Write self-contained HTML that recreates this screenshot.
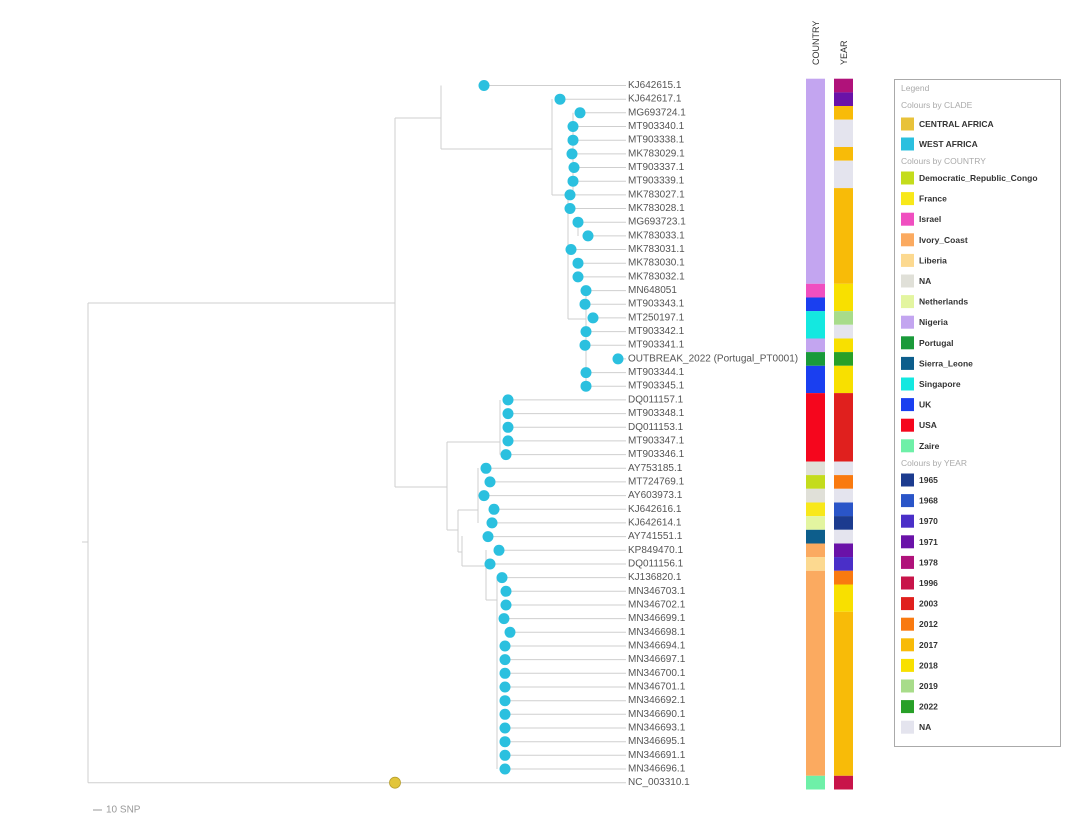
<!DOCTYPE html>
<html><head><meta charset="utf-8"><style>
html,body{margin:0;padding:0;background:#fff;width:1080px;height:829px;overflow:hidden}
svg{display:block;font-family:"Liberation Sans",sans-serif}
.l{font-size:10px;fill:#555}
.lg{font-size:8.5px;font-weight:bold;fill:#333}
.h{font-size:8.5px;fill:#aaa}
</style></head><body>
<svg width="1080" height="829" viewBox="0 0 1080 829">
<g stroke="#cfcfcf" stroke-width="1" fill="none">
<path d="M82 542H88M88 303V782.7M88 303H395M395 118V487M395 118H441M441 85.5V149M441 149H552M552 99V195M552 195H568M573 112.8V195M568 195V319M568 319H586M586 290V386M578 222V236"/>
<path d="M395 487H447M447 442V530M447 442H500M500 400V454.6M447 530H458M458 510V552M458 510H478M478 468V523M458 552H462M462 536V566M462 566H486M486 550V600M486 600H497M497 577V769"/>
<path d="M88 782.7H626M484 85.5H626M560 99.2H626M580 112.8H626M573 126.5H626M573 140.2H626M572 153.9H626M574 167.5H626M573 181.2H626M570 194.9H626M570 208.5H626M578 222.2H626M588 235.9H626M571 249.5H626M578 263.2H626M578 276.9H626M586 290.6H626M585 304.2H626M593 317.9H626M586 331.6H626M585 345.2H626M618 358.9H626M586 372.6H626M586 386.2H626M508 399.9H626M508 413.6H626M508 427.3H626M508 440.9H626M506 454.6H626M486 468.3H626M490 481.9H626M484 495.6H626M494 509.3H626M492 522.9H626M488 536.6H626M499 550.3H626M490 564H626M502 577.6H626M506 591.3H626M506 605H626M504 618.6H626M510 632.3H626M505 646H626M505 659.6H626M505 673.3H626M505 687H626M505 700.7H626M505 714.3H626M505 728H626M505 741.7H626M505 755.3H626M505 769H626"/>
</g>
<g fill="#2bc0df">
<circle cx="484" cy="85.5" r="5.5"/><circle cx="560" cy="99.2" r="5.5"/><circle cx="580" cy="112.8" r="5.5"/><circle cx="573" cy="126.5" r="5.5"/><circle cx="573" cy="140.2" r="5.5"/><circle cx="572" cy="153.9" r="5.5"/><circle cx="574" cy="167.5" r="5.5"/><circle cx="573" cy="181.2" r="5.5"/><circle cx="570" cy="194.9" r="5.5"/><circle cx="570" cy="208.5" r="5.5"/><circle cx="578" cy="222.2" r="5.5"/><circle cx="588" cy="235.9" r="5.5"/><circle cx="571" cy="249.5" r="5.5"/><circle cx="578" cy="263.2" r="5.5"/><circle cx="578" cy="276.9" r="5.5"/><circle cx="586" cy="290.6" r="5.5"/><circle cx="585" cy="304.2" r="5.5"/><circle cx="593" cy="317.9" r="5.5"/><circle cx="586" cy="331.6" r="5.5"/><circle cx="585" cy="345.2" r="5.5"/><circle cx="618" cy="358.9" r="5.5"/><circle cx="586" cy="372.6" r="5.5"/><circle cx="586" cy="386.2" r="5.5"/>
<circle cx="508" cy="399.9" r="5.5"/><circle cx="508" cy="413.6" r="5.5"/><circle cx="508" cy="427.3" r="5.5"/><circle cx="508" cy="440.9" r="5.5"/><circle cx="506" cy="454.6" r="5.5"/><circle cx="486" cy="468.3" r="5.5"/><circle cx="490" cy="481.9" r="5.5"/><circle cx="484" cy="495.6" r="5.5"/><circle cx="494" cy="509.3" r="5.5"/><circle cx="492" cy="522.9" r="5.5"/><circle cx="488" cy="536.6" r="5.5"/><circle cx="499" cy="550.3" r="5.5"/><circle cx="490" cy="564" r="5.5"/><circle cx="502" cy="577.6" r="5.5"/><circle cx="506" cy="591.3" r="5.5"/><circle cx="506" cy="605" r="5.5"/><circle cx="504" cy="618.6" r="5.5"/><circle cx="510" cy="632.3" r="5.5"/><circle cx="505" cy="646" r="5.5"/><circle cx="505" cy="659.6" r="5.5"/><circle cx="505" cy="673.3" r="5.5"/><circle cx="505" cy="687" r="5.5"/><circle cx="505" cy="700.7" r="5.5"/><circle cx="505" cy="714.3" r="5.5"/><circle cx="505" cy="728" r="5.5"/><circle cx="505" cy="741.7" r="5.5"/><circle cx="505" cy="755.3" r="5.5"/><circle cx="505" cy="769" r="5.5"/>
</g>
<circle cx="395" cy="782.7" r="5.5" fill="#e2c53a" stroke="#b8a030" stroke-width="0.8"/>
<g class="l" dominant-baseline="central">
<text x="628" y="85.5">KJ642615.1</text><text x="628" y="99.2">KJ642617.1</text><text x="628" y="112.8">MG693724.1</text><text x="628" y="126.5">MT903340.1</text><text x="628" y="140.2">MT903338.1</text><text x="628" y="153.9">MK783029.1</text><text x="628" y="167.5">MT903337.1</text><text x="628" y="181.2">MT903339.1</text><text x="628" y="194.9">MK783027.1</text><text x="628" y="208.5">MK783028.1</text><text x="628" y="222.2">MG693723.1</text><text x="628" y="235.9">MK783033.1</text><text x="628" y="249.5">MK783031.1</text><text x="628" y="263.2">MK783030.1</text><text x="628" y="276.9">MK783032.1</text><text x="628" y="290.6">MN648051</text><text x="628" y="304.2">MT903343.1</text><text x="628" y="317.9">MT250197.1</text><text x="628" y="331.6">MT903342.1</text><text x="628" y="345.2">MT903341.1</text><text x="628" y="358.9">OUTBREAK_2022 (Portugal_PT0001)</text><text x="628" y="372.6">MT903344.1</text><text x="628" y="386.2">MT903345.1</text><text x="628" y="399.9">DQ011157.1</text><text x="628" y="413.6">MT903348.1</text><text x="628" y="427.3">DQ011153.1</text><text x="628" y="440.9">MT903347.1</text><text x="628" y="454.6">MT903346.1</text><text x="628" y="468.3">AY753185.1</text><text x="628" y="481.9">MT724769.1</text><text x="628" y="495.6">AY603973.1</text><text x="628" y="509.3">KJ642616.1</text><text x="628" y="522.9">KJ642614.1</text><text x="628" y="536.6">AY741551.1</text><text x="628" y="550.3">KP849470.1</text><text x="628" y="564">DQ011156.1</text><text x="628" y="577.6">KJ136820.1</text><text x="628" y="591.3">MN346703.1</text><text x="628" y="605">MN346702.1</text><text x="628" y="618.6">MN346699.1</text><text x="628" y="632.3">MN346698.1</text><text x="628" y="646">MN346694.1</text><text x="628" y="659.6">MN346697.1</text><text x="628" y="673.3">MN346700.1</text><text x="628" y="687">MN346701.1</text><text x="628" y="700.7">MN346692.1</text><text x="628" y="714.3">MN346690.1</text><text x="628" y="728">MN346693.1</text><text x="628" y="741.7">MN346695.1</text><text x="628" y="755.3">MN346691.1</text><text x="628" y="769">MN346696.1</text><text x="628" y="782.7">NC_003310.1</text>
</g>
<text x="819" y="65" transform="rotate(-90 819 65)" font-size="9" fill="#333">COUNTRY</text>
<text x="847" y="65" transform="rotate(-90 847 65)" font-size="9" fill="#333">YEAR</text>
<g>
<rect x="806" y="78.7" width="19" height="205.1" fill="#c3a5f0"/>
<rect x="806" y="283.8" width="19" height="13.7" fill="#f04fc0"/>
<rect x="806" y="297.5" width="19" height="13.7" fill="#1a3ff0"/>
<rect x="806" y="311.1" width="19" height="27.4" fill="#14e8e0"/>
<rect x="806" y="338.5" width="19" height="13.7" fill="#c3a5f0"/>
<rect x="806" y="352.1" width="19" height="13.7" fill="#1a9a3a"/>
<rect x="806" y="365.8" width="19" height="27.3" fill="#1a3ff0"/>
<rect x="806" y="393.1" width="19" height="68.4" fill="#f5061d"/>
<rect x="806" y="461.5" width="19" height="13.7" fill="#e0e0d8"/>
<rect x="806" y="475.1" width="19" height="13.7" fill="#c4dc1c"/>
<rect x="806" y="488.8" width="19" height="13.7" fill="#e0e0d8"/>
<rect x="806" y="502.5" width="19" height="13.7" fill="#f8e81a"/>
<rect x="806" y="516.1" width="19" height="13.7" fill="#e3f5a0"/>
<rect x="806" y="529.8" width="19" height="13.7" fill="#0d5e8c"/>
<rect x="806" y="543.5" width="19" height="13.7" fill="#fbaa60"/>
<rect x="806" y="557.1" width="19" height="13.7" fill="#fcd990"/>
<rect x="806" y="570.8" width="19" height="205" fill="#fbaa60"/>
<rect x="806" y="775.8" width="19" height="13.7" fill="#6ef0a8"/>
<rect x="834" y="78.7" width="19" height="13.7" fill="#b0127a"/>
<rect x="834" y="92.4" width="19" height="13.7" fill="#6a12a8"/>
<rect x="834" y="106" width="19" height="13.7" fill="#f8bb08"/>
<rect x="834" y="119.7" width="19" height="27.3" fill="#e4e4ee"/>
<rect x="834" y="147" width="19" height="13.7" fill="#f8bb08"/>
<rect x="834" y="160.7" width="19" height="27.4" fill="#e4e4ee"/>
<rect x="834" y="188.1" width="19" height="95.7" fill="#f8bb08"/>
<rect x="834" y="283.8" width="19" height="27.3" fill="#f8e000"/>
<rect x="834" y="311.1" width="19" height="13.7" fill="#a8dc8a"/>
<rect x="834" y="324.8" width="19" height="13.7" fill="#e4e4ee"/>
<rect x="834" y="338.5" width="19" height="13.7" fill="#f8e000"/>
<rect x="834" y="352.1" width="19" height="13.7" fill="#28a028"/>
<rect x="834" y="365.8" width="19" height="27.3" fill="#f8e000"/>
<rect x="834" y="393.1" width="19" height="68.4" fill="#e0201e"/>
<rect x="834" y="461.5" width="19" height="13.7" fill="#e4e4ee"/>
<rect x="834" y="475.1" width="19" height="13.7" fill="#f97a10"/>
<rect x="834" y="488.8" width="19" height="13.7" fill="#e4e4ee"/>
<rect x="834" y="502.5" width="19" height="13.7" fill="#2a55c8"/>
<rect x="834" y="516.1" width="19" height="13.7" fill="#1c3b8f"/>
<rect x="834" y="529.8" width="19" height="13.7" fill="#e4e4ee"/>
<rect x="834" y="543.5" width="19" height="13.7" fill="#6a12a8"/>
<rect x="834" y="557.1" width="19" height="13.7" fill="#4a2fc8"/>
<rect x="834" y="570.8" width="19" height="13.7" fill="#f97a10"/>
<rect x="834" y="584.5" width="19" height="27.3" fill="#f8e000"/>
<rect x="834" y="611.8" width="19" height="164" fill="#f8bb08"/>
<rect x="834" y="775.8" width="19" height="13.7" fill="#c8144a"/>
</g>
<rect x="894.5" y="79.5" width="166" height="667" fill="#fff" stroke="#aaa" stroke-width="1"/>
<g dominant-baseline="central">
<text class="h" x="901" y="88">Legend</text>
<text class="h" x="901" y="105">Colours by CLADE</text>
<rect x="901" y="117.5" width="13" height="13" fill="#e8c23a"/><text class="lg" x="919" y="124">CENTRAL AFRICA</text>
<rect x="901" y="137.5" width="13" height="13" fill="#2bc0df"/><text class="lg" x="919" y="144">WEST AFRICA</text>
<text class="h" x="901" y="161">Colours by COUNTRY</text>
<rect x="901" y="171.5" width="13" height="13" fill="#c4dc1c"/><text class="lg" x="919" y="178">Democratic_Republic_Congo</text>
<rect x="901" y="192.1" width="13" height="13" fill="#f8e81a"/><text class="lg" x="919" y="198.6">France</text>
<rect x="901" y="212.7" width="13" height="13" fill="#f04fc0"/><text class="lg" x="919" y="219.2">Israel</text>
<rect x="901" y="233.3" width="13" height="13" fill="#fbaa60"/><text class="lg" x="919" y="239.8">Ivory_Coast</text>
<rect x="901" y="253.9" width="13" height="13" fill="#fcd990"/><text class="lg" x="919" y="260.4">Liberia</text>
<rect x="901" y="274.5" width="13" height="13" fill="#e0e0d8"/><text class="lg" x="919" y="281">NA</text>
<rect x="901" y="295.1" width="13" height="13" fill="#e3f5a0"/><text class="lg" x="919" y="301.6">Netherlands</text>
<rect x="901" y="315.7" width="13" height="13" fill="#c3a5f0"/><text class="lg" x="919" y="322.2">Nigeria</text>
<rect x="901" y="336.3" width="13" height="13" fill="#1a9a3a"/><text class="lg" x="919" y="342.8">Portugal</text>
<rect x="901" y="356.9" width="13" height="13" fill="#0d5e8c"/><text class="lg" x="919" y="363.4">Sierra_Leone</text>
<rect x="901" y="377.5" width="13" height="13" fill="#14e8e0"/><text class="lg" x="919" y="384">Singapore</text>
<rect x="901" y="398.1" width="13" height="13" fill="#1a3ff0"/><text class="lg" x="919" y="404.6">UK</text>
<rect x="901" y="418.7" width="13" height="13" fill="#f5061d"/><text class="lg" x="919" y="425.2">USA</text>
<rect x="901" y="439.3" width="13" height="13" fill="#6ef0a8"/><text class="lg" x="919" y="445.8">Zaire</text>
<text class="h" x="901" y="463">Colours by YEAR</text>
<rect x="901" y="473.5" width="13" height="13" fill="#1c3b8f"/><text class="lg" x="919" y="480">1965</text>
<rect x="901" y="494.1" width="13" height="13" fill="#2a55c8"/><text class="lg" x="919" y="500.6">1968</text>
<rect x="901" y="514.7" width="13" height="13" fill="#4a2fc8"/><text class="lg" x="919" y="521.2">1970</text>
<rect x="901" y="535.3" width="13" height="13" fill="#6a12a8"/><text class="lg" x="919" y="541.8">1971</text>
<rect x="901" y="555.9" width="13" height="13" fill="#b0127a"/><text class="lg" x="919" y="562.4">1978</text>
<rect x="901" y="576.5" width="13" height="13" fill="#c8144a"/><text class="lg" x="919" y="583">1996</text>
<rect x="901" y="597.1" width="13" height="13" fill="#e0201e"/><text class="lg" x="919" y="603.6">2003</text>
<rect x="901" y="617.7" width="13" height="13" fill="#f97a10"/><text class="lg" x="919" y="624.2">2012</text>
<rect x="901" y="638.3" width="13" height="13" fill="#f8bb08"/><text class="lg" x="919" y="644.8">2017</text>
<rect x="901" y="658.9" width="13" height="13" fill="#f8e000"/><text class="lg" x="919" y="665.4">2018</text>
<rect x="901" y="679.5" width="13" height="13" fill="#a8dc8a"/><text class="lg" x="919" y="686">2019</text>
<rect x="901" y="700.1" width="13" height="13" fill="#28a028"/><text class="lg" x="919" y="706.6">2022</text>
<rect x="901" y="720.7" width="13" height="13" fill="#e4e4ee"/><text class="lg" x="919" y="727.2">NA</text>
</g>
<line x1="93" y1="810" x2="102" y2="810" stroke="#999" stroke-width="1"/>
<text x="106" y="810" dominant-baseline="central" font-size="10" fill="#999">10 SNP</text>
</svg>
</body></html>
